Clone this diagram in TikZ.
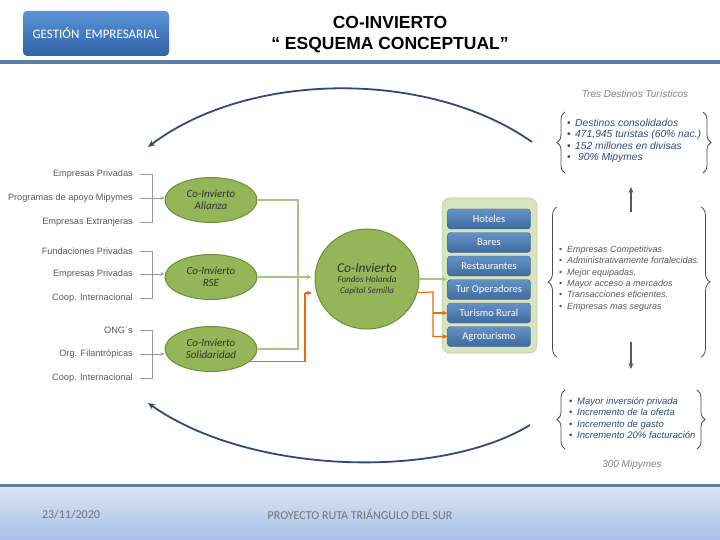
\documentclass[tikz,border=0pt]{standalone}
\usepackage{fontspec}
\setmainfont{Liberation Sans}
\newfontfamily\carl{Carlito}
\usetikzlibrary{arrows.meta,decorations.pathreplacing,shapes.geometric}
\definecolor{hdrline}{HTML}{5B7FA6}
\definecolor{hdrtop}{HTML}{5B94D6}
\definecolor{hdrbot}{HTML}{2F62A8}
\definecolor{ftop}{HTML}{DCE6F4}
\definecolor{fbot}{HTML}{A7BFE6}
\definecolor{elgreen}{HTML}{94B558}
\definecolor{elborder}{HTML}{6E8F3A}
\definecolor{gline}{HTML}{A9C47F}
\definecolor{oline}{HTML}{E46C0A}
\definecolor{navy}{HTML}{2E4A7A}
\definecolor{lbl}{HTML}{595959}
\definecolor{boxblue}{HTML}{4A7EBB}
\definecolor{panel}{HTML}{D7E4BD}
\tikzset{
  srclabel/.style={anchor=east,font=\fontsize{9.2}{10}\selectfont,text=lbl,inner sep=0pt},
  brk/.style={draw=gray!80,line width=0.7pt},
  brkarrow/.style={brk,-{Stealth[length=4pt,width=3.5pt]}},
  coel/.style={ellipse,draw=elborder,line width=1pt,fill=elgreen,minimum width=92pt,minimum height=45pt,inner sep=0pt,align=center,font=\carl\itshape\fontsize{11}{12.5}\selectfont,text=black!80},
  gconn/.style={draw=gline,line width=1.2pt},
  oconn/.style={draw=oline,line width=1.2pt},
  gtip/.style={-{Stealth[length=5pt,width=4.5pt]}},
  hubbox/.style={rectangle,rounded corners=3pt,draw=boxblue!80!black,top color=boxblue!85!white,bottom color=boxblue!85!black,minimum width=83pt,minimum height=20pt,inner sep=0pt,font=\carl\fontsize{10.5}{11}\selectfont,text=white},
  bullets/.style={anchor=north west,align=left,inner sep=0pt},
  bracepath/.style={decorate,decoration={brace,amplitude=8pt},draw=black!70,line width=0.8pt},
  bigcurve/.style={draw=navy,line width=1.8pt,-{Stealth[length=7pt,width=6pt]}},
  flowarrow/.style={draw=black!65,line width=1.2pt,-{Stealth[length=6pt,width=5pt]}}
}
\newcommand{\bul}{\makebox[8pt][l]{\upshape\textbullet}}
\begin{document}
\begin{tikzpicture}[x=1pt,y=-1pt]
\useasboundingbox (0,0) rectangle (720,540);
% header
\node[rectangle,rounded corners=4pt,top color=hdrtop,bottom color=hdrbot,minimum width=146pt,minimum height=45pt,inner sep=0pt,font=\carl\fontsize{13}{14}\selectfont,text=white] (hdr) at (96,33.5) {GESTIÓN\ \ EMPRESARIAL};
\node[font=\bfseries\fontsize{17.5}{21}\selectfont,align=center,inner sep=0pt] (title) at (390,34.5) {CO-INVIERTO\\“ ESQUEMA CONCEPTUAL”};
\draw[hdrline,line width=3.5pt] (0,62) -- (720,62);
% footer
\shade[top color=ftop,bottom color=fbot] (0,485) rectangle (720,540);
\draw[hdrline,line width=3pt] (0,485) -- (720,485);
\node[font=\carl\fontsize{12}{13}\selectfont,text=black!55] (date) at (71,515) {23/11/2020};
\node[font=\carl\fontsize{12}{13}\selectfont,text=black!55] (proj) at (360,515) {PROYECTO RUTA TRIÁNGULO DEL SUR};
% left labels
\node[srclabel] (l1) at (133,174) {Empresas Privadas};
\node[srclabel] (l2) at (133,198) {Programas de apoyo Mipymes};
\node[srclabel] (l3) at (133,222) {Empresas Extranjeras};
\node[srclabel] (l4) at (133,251) {Fundaciones Privadas};
\node[srclabel] (l5) at (133,274) {Empresas Privadas};
\node[srclabel] (l6) at (133,298) {Coop. Internacional};
\node[srclabel] (l7) at (133,330) {ONG´s};
\node[srclabel] (l8) at (133,354) {Org. Filantrópicas};
\node[srclabel] (l9) at (133,378) {Coop. Internacional};
% ellipses
\node[coel] (e1) at (211,200) {Co-Invierto\\Alianza};
\node[coel] (e2) at (211,277) {Co-Invierto\\RSE};
\node[coel] (e3) at (211,349) {Co-Invierto\\Solidaridad};
\node[coel,minimum width=104pt,minimum height=100pt,font=\carl\itshape\fontsize{9}{10.5}\selectfont] (c) at (367,279) {{\fontsize{13.5}{15}\selectfont Co-Invierto}\\Fondos Holanda\\Capital Semilla};
% brackets
\foreach \a/\b/\m/\e in {l1/l3/l2/e1,l4/l6/l5/e2,l7/l9/l8/e3}{
  \draw[brk] ([xshift=7pt]\a.east) -- ([xshift=19pt]\a.east) -- ([xshift=19pt]\b.east) -- ([xshift=7pt]\b.east);
  \draw[brkarrow] ([xshift=7pt]\m.east) -- (\m.east -| \e.west);
}
% green / orange connectors into the central circle
\coordinate (j) at (298,277);
\draw[gconn] (e1.east) -| (j);
\draw[gconn] (e3.east) -| (j);
\draw[gconn,gtip,shorten >=3pt] (e2.east) -- (j -| c.west);
\coordinate (oj) at (305,293);
\draw[oconn] (e3.-18) -| (oj);
\draw[oconn,gtip] (oj) -- (312,293);
% hub panel
\node[rectangle,rounded corners=8pt,fill=panel,draw=panel!85!black,line width=0.5pt,minimum width=95pt,minimum height=155pt,inner sep=0pt] (hub) at (489.5,275.5) {};
\node[hubbox] (b1) at (489,219) {Hoteles};
\node[hubbox] (b2) at (489,242.5) {Bares};
\node[hubbox] (b3) at (489,266) {Restaurantes};
\node[hubbox] (b4) at (489,289.5) {Tur Operadores};
\node[hubbox] (b5) at (489,313) {Turismo Rural};
\node[hubbox] (b6) at (489,336.5) {Agroturismo};
\draw[gconn,gtip] (c.east) -- (c.east -| b1.west);
\coordinate (ok) at (433,292);
\draw[oconn] (c.-15) -- (ok) |- (b6.west);
\draw[oconn,gtip] (ok |- b5.west) -- (b5.west);
\draw[oconn,gtip] (ok |- b6.west) -- (b6.west);
% right column
\node[font=\itshape\fontsize{10}{11}\selectfont,text=black!50] (tres) at (635,94) {Tres Destinos Turísticos};
\node[bullets,text=navy,font=\itshape\fontsize{10.3}{11.2}\selectfont] (g1) at (567,119) {\bul Destinos consolidados\\\bul 471,945\ turistas (60\% nac.)\\\bul 152 millones en divisas\\\bul\ 90\% Mipymes};
\draw[bracepath] (565,173) -- (565,112);
\draw[bracepath] (703,112) -- (703,173);
\draw[flowarrow] (631,212) -- (631,187);
\node[bullets,text=lbl,font=\itshape\fontsize{9}{11.4}\selectfont] (g2) at (559,245.5) {\bul Empresas Competitivas\\\bul Administrativamente fortalecidas.\\\bul Mejor equipadas.\\\bul Mayor acceso a mercados\\\bul Transacciones\ eficientes.\\\bul Empresas mas seguras};
\draw[bracepath,decoration={brace,amplitude=9pt}] (557,357) -- (557,207);
\draw[bracepath,decoration={brace,amplitude=9pt}] (701,207) -- (701,357);
\draw[flowarrow] (631,342) -- (631,369);
\node[bullets,text=navy,font=\itshape\fontsize{9.5}{11.3}\selectfont] (g3) at (569,397.5) {\bul Mayor inversión privada\\\bul Incremento de la oferta\\\bul Incremento de gasto\\\bul Incremento 20\% facturación};
\draw[bracepath] (565,449) -- (565,390);
\draw[bracepath] (697,390) -- (697,449);
\node[font=\itshape\fontsize{10}{11}\selectfont,text=black!50] (mip) at (632,465) {300 Mipymes};
% big feedback curves
\coordinate (t1) at (532,142);
\coordinate (t2) at (148,147);
\draw[bigcurve] (t1) .. controls (430,70) and (250,70) .. (t2);
\coordinate (u1) at (530,425);
\coordinate (u2) at (148,403);
\draw[bigcurve] (u1) .. controls (440,480) and (250,475) .. (u2);
\end{tikzpicture}
\end{document}
